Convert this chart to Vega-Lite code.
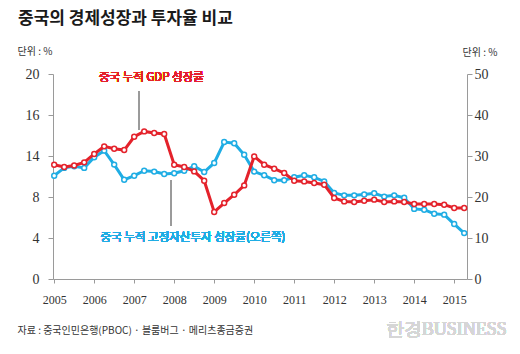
{
  "$schema": "https://vega.github.io/schema/vega-lite/v6.json",
  "width": 414,
  "height": 205,
  "autosize": {"type": "none"},
  "padding": {"left": 53, "top": 74, "right": 53, "bottom": 75},
  "background": "white",
  "config": {
    "view": {"stroke": null},
    "axis": {
      "domainColor": "#9a9a9a",
      "tickColor": "#9a9a9a",
      "grid": false,
      "labelFont": "Liberation Sans Narrow",
      "labelColor": "#333333",
      "titleFont": "Noto Sans CJK KR",
      "titleColor": "#333333",
      "titleFontWeight": "normal"
    }
  },
  "title": {
    "text": "중국의 경제성장과 투자율 비교",
    "font": "Noto Sans CJK KR",
    "fontSize": 17,
    "fontWeight": "bold",
    "color": "#1a1a1a",
    "anchor": "start",
    "frame": "group",
    "dx": -35,
    "dy": -14
  },
  "data": {
    "values": [
      {"t": 2005.00, "gdp": 11.15, "fai": 25.2},
      {"t": 2005.25, "gdp": 10.93, "fai": 27.1},
      {"t": 2005.50, "gdp": 11.08, "fai": 27.5},
      {"t": 2005.75, "gdp": 11.38, "fai": 27.1},
      {"t": 2006.00, "gdp": 12.20, "fai": 29.7},
      {"t": 2006.25, "gdp": 12.94, "fai": 31.3},
      {"t": 2006.50, "gdp": 12.71, "fai": 27.9},
      {"t": 2006.75, "gdp": 12.58, "fai": 24.2},
      {"t": 2007.00, "gdp": 13.88, "fai": 25.2},
      {"t": 2007.25, "gdp": 14.40, "fai": 26.4},
      {"t": 2007.50, "gdp": 14.24, "fai": 26.2},
      {"t": 2007.75, "gdp": 14.15, "fai": 25.6},
      {"t": 2008.00, "gdp": 11.15, "fai": 25.8},
      {"t": 2008.25, "gdp": 10.93, "fai": 26.4},
      {"t": 2008.50, "gdp": 10.50, "fai": 27.5},
      {"t": 2008.75, "gdp": 9.59, "fai": 26.1},
      {"t": 2009.00, "gdp": 6.54, "fai": 28.3},
      {"t": 2009.25, "gdp": 7.41, "fai": 33.4},
      {"t": 2009.50, "gdp": 8.22, "fai": 33.1},
      {"t": 2009.75, "gdp": 9.13, "fai": 30.3},
      {"t": 2010.00, "gdp": 11.96, "fai": 26.2},
      {"t": 2010.25, "gdp": 11.15, "fai": 25.3},
      {"t": 2010.50, "gdp": 10.76, "fai": 24.1},
      {"t": 2010.75, "gdp": 10.34, "fai": 24.1},
      {"t": 2011.00, "gdp": 9.59, "fai": 24.8},
      {"t": 2011.25, "gdp": 9.52, "fai": 25.3},
      {"t": 2011.50, "gdp": 9.37, "fai": 24.8},
      {"t": 2011.75, "gdp": 9.20, "fai": 23.8},
      {"t": 2012.00, "gdp": 7.90, "fai": 21.0},
      {"t": 2012.25, "gdp": 7.57, "fai": 20.4},
      {"t": 2012.50, "gdp": 7.51, "fai": 20.4},
      {"t": 2012.75, "gdp": 7.64, "fai": 20.6},
      {"t": 2013.00, "gdp": 7.74, "fai": 20.9},
      {"t": 2013.25, "gdp": 7.51, "fai": 20.1},
      {"t": 2013.50, "gdp": 7.57, "fai": 20.4},
      {"t": 2013.75, "gdp": 7.51, "fai": 19.8},
      {"t": 2014.00, "gdp": 7.32, "fai": 17.1},
      {"t": 2014.25, "gdp": 7.32, "fai": 16.9},
      {"t": 2014.50, "gdp": 7.32, "fai": 15.9},
      {"t": 2014.75, "gdp": 7.25, "fai": 15.7},
      {"t": 2015.00, "gdp": 6.93, "fai": 13.4},
      {"t": 2015.25, "gdp": 6.93, "fai": 11.2}
    ]
  },
  "encoding": {
    "x": {
      "field": "t",
      "type": "quantitative",
      "scale": {"domain": [2004.97, 2015.32], "nice": false, "zero": false},
      "axis": {
        "values": [2005, 2006, 2007, 2008, 2009, 2010, 2011, 2012, 2013, 2014, 2015],
        "format": "d",
        "labelFontSize": 12,
        "tickSize": 4,
        "labelPadding": 11,
        "title": "자료 : 중국인민은행(PBOC) · 블룸버그 · 메리츠종금증권",
        "titleFontSize": 10,
        "titleAnchor": "start",
        "titleAlign": "left",
        "titleBaseline": "middle",
        "titleX": -36,
        "titleY": 51
      }
    }
  },
  "layer": [
    {
      "layer": [
        {
          "mark": {
            "type": "line",
            "color": "#1fade4",
            "strokeWidth": 3,
            "point": {"filled": true, "fill": "white", "stroke": "#1fade4", "strokeWidth": 1.5, "size": 24}
          },
          "encoding": {
            "y": {
              "field": "fai",
              "type": "quantitative",
              "scale": {"domain": [0, 50], "nice": false},
              "axis": {
                "orient": "right",
                "values": [0, 10, 20, 30, 40, 50],
                "labelFontSize": 14,
                "tickSize": 5,
                "labelPadding": 2,
                "title": "단위 : %",
                "titleFontSize": 10,
                "titleAngle": 0,
                "titleAlign": "left",
                "titleBaseline": "middle",
                "titleX": -5,
                "titleY": -22
              }
            }
          }
        }
      ]
    },
    {
      "layer": [
        {
          "mark": {
            "type": "line",
            "color": "#e4222b",
            "strokeWidth": 3,
            "point": {"filled": true, "fill": "white", "stroke": "#e4222b", "strokeWidth": 1.5, "size": 24}
          },
          "encoding": {
            "y": {
              "field": "gdp",
              "type": "quantitative",
              "scale": {"domain": [0, 20], "nice": false},
              "axis": {
                "orient": "left",
                "values": [0, 4, 8, 12, 16, 20],
                "labelExpr": "datum.value == 12 ? '14' : datum.label",
                "labelFontSize": 14,
                "tickSize": 5,
                "labelPadding": 9,
                "title": "단위 : %",
                "titleFontSize": 10,
                "titleAngle": 0,
                "titleAlign": "left",
                "titleBaseline": "middle",
                "titleX": -36,
                "titleY": -23
              }
            }
          }
        },
        {
          "mark": {"type": "rule", "color": "#9a9a9a", "strokeWidth": 1},
          "encoding": {
            "x": {"datum": 2007.12},
            "y": {"datum": 18.27},
            "y2": {"datum": 14.6}
          }
        },
        {
          "mark": {"type": "rule", "color": "#9a9a9a", "strokeWidth": 1},
          "encoding": {
            "x": {"datum": 2007.92},
            "y": {"datum": 9.6},
            "y2": {"datum": 5.2}
          }
        },
        {
          "mark": {"type": "text", "color": "#e4222b", "font": "Noto Sans CJK KR", "fontSize": 11.5, "fontWeight": "normal", "align": "center", "baseline": "middle"},
          "encoding": {
            "x": {"datum": 2007.43},
            "y": {"datum": 19.64},
            "text": {"value": "중국 누적 GDP 성장률"}
          }
        },
        {
          "mark": {"type": "text", "color": "#1fade4", "font": "Noto Sans CJK KR", "fontSize": 11.5, "fontWeight": "normal", "align": "center", "baseline": "middle"},
          "encoding": {
            "x": {"datum": 2008.47},
            "y": {"datum": 4.03},
            "text": {"value": "중국 누적 고정자산투자 성장률(오른쪽)"}
          }
        },
        {
          "mark": {"type": "text", "color": "#d6d6d6", "font": "Liberation Sans Narrow", "fontSize": 18, "fontWeight": "normal", "align": "center", "baseline": "middle"},
          "encoding": {
            "x": {"datum": 2014.8},
            "y": {"datum": -4.95},
            "text": {"value": "한경BUSINESS"}
          }
        }
      ]
    }
  ],
  "resolve": {"scale": {"y": "independent"}}
}
